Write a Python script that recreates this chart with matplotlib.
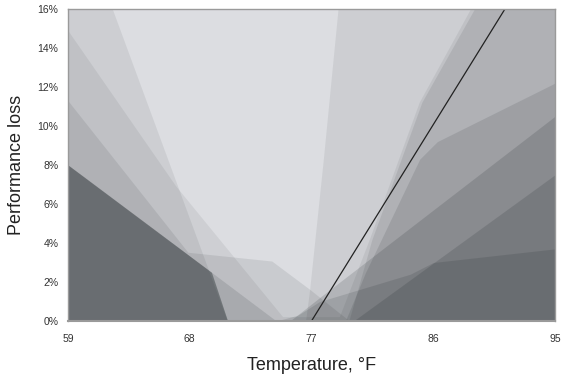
import numpy as np
import matplotlib
matplotlib.use("Agg")
import matplotlib.pyplot as plt

plt.rcParams['font.family'] = ['Liberation Sans', 'DejaVu Sans']

# performance-loss curves (°F, % loss)
d_x = [59, 62.3, 70.8, 76.6, 76.9, 77.9, 79.0, 80.5, 95]
d_y = [22.5, 16, 0, 0, 1.6, 8.2, 16, 26, 26]

b_x = [59, 67.0, 74.9, 79.1, 81.3, 85.0, 88.8, 95]
b_y = [14.9, 6.9, 0.2, 0.2, 4.15, 11.2, 16, 24]

c_x = [59, 67.9, 74.1, 76.9, 79.8, 81.5, 85.2, 89.1, 95]
c_y = [11.3, 3.5, 3.05, 1.6, 0, 4.15, 11.2, 16, 24]

x_x = [59, 69.6, 70.8, 79.5, 81.0, 85.0, 86.3, 95]
x_y = [8, 2.5, 0, 0, 2.5, 8.3, 9.2, 12.2]

y_x = [59, 69.6, 70.8, 75.4, 77.6, 95]
y_y = [8, 2.5, 0, 0, 1.2, 10.5]

z_x = [59, 69.6, 70.8, 80.1, 95]
z_y = [8, 2.5, 0, 0, 7.5]

a_x = [59, 69.6, 74.4, 76.0, 77.6, 84.3, 86.0, 95]
a_y = [8, 2.5, 0, 0.3, 1.0, 2.4, 3.0, 3.7]

curves = [(d_x, d_y, 0.068), (b_x, b_y, 0.063), (c_x, c_y, 0.084),
          (x_x, x_y, 0.10), (y_x, y_y, 0.13), (z_x, z_y, 0.124), (a_x, a_y, 0.108)]

# fitted line
fit_x = [77.0, 91.3]
fit_y = [0, 16]

fig = plt.figure(figsize=(5.63, 3.77), dpi=100)
ax = fig.add_axes([68/563, 1 - 321/377, 487/563, 312/377])
ax.set_facecolor('#dcdde1')

for cx, cy, a in curves:
    ax.fill_between(cx, cy, 0, color='#000a0c', alpha=a, linewidth=0)

ax.plot(fit_x, fit_y, color='#222222', lw=0.9)

ax.set_xlim(59, 95)
ax.set_ylim(0, 16)
ax.set_xticks([59, 68, 77, 86, 95])
ax.set_yticks(range(0, 17, 2))
ax.set_yticklabels([f"{v}%" for v in range(0, 17, 2)])
ax.tick_params(length=0, labelsize=7.5, colors='#333333')
ax.tick_params(axis='x', pad=9)
ax.tick_params(axis='y', pad=7)
for s in ax.spines.values():
    s.set_color('#9a9a9a')
    s.set_linewidth(1)
ax.spines['bottom'].set_linewidth(1.5)

ax.set_xlabel("Temperature, °F", fontsize=13, color='#222222', labelpad=10)
ax.set_ylabel("Performance loss", fontsize=13, color='#222222', labelpad=9)

fig.savefig("out.png", dpi=100)
